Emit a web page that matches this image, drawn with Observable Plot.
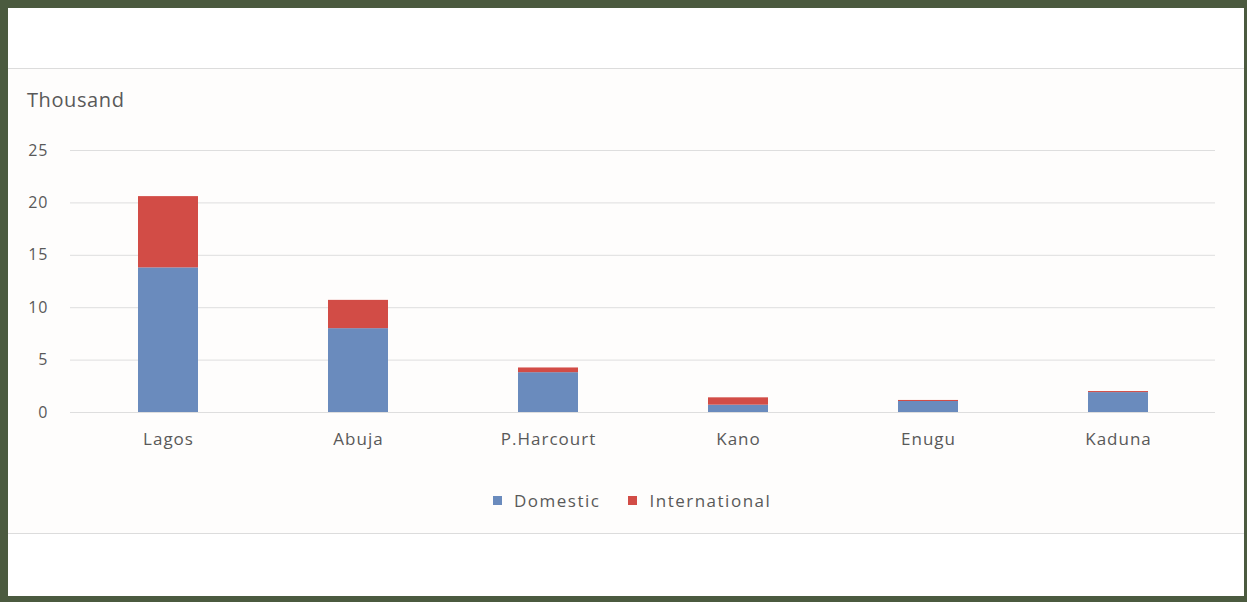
<!DOCTYPE html>
<html>
<head>
<meta charset="utf-8">
<script src="https://cdn.jsdelivr.net/npm/d3@7"></script>
<script src="https://cdn.jsdelivr.net/npm/@observablehq/plot@0.6"></script>
<style>
  html, body { margin: 0; padding: 0; background: #fff; }
  #frame { position: relative; width: 1247px; height: 602px; background: #4b5a3f; overflow: hidden; font-family: "Open Sans", sans-serif; color: #595959; }
  #inner { position: absolute; left: 8px; top: 8px; width: 1236px; height: 588px; background: #fff; }
  #panel { position: absolute; left: 8px; top: 68px; width: 1236px; height: 464px; background: #fefdfc; border-top: 1px solid #dcdcdc; border-bottom: 1px solid #dcdcdc; }
  #unit { position: absolute; left: 27px; top: 86px; font-size: 20px; letter-spacing: 0.6px; color: #595959; }
  #chart { position: absolute; left: 0; top: 120px; }
  #chart svg text { letter-spacing: 1px; }
  #legend { position: absolute; top: 489px; left: 493px; display: flex; gap: 28px; font-size: 17px; color: #595959; letter-spacing: 1.5px; }
  .item { display: flex; align-items: center; gap: 12px; }
  .sw { width: 9px; height: 9px; display: inline-block; }
</style>
</head>
<body>
<div id="frame">
  <div id="inner"></div>
  <div id="panel"></div>
  <div id="unit">Thousand</div>
  <div id="chart"></div>
  <div id="legend"></div>
</div>
<script>
const airports = ["Lagos", "Abuja", "P.Harcourt", "Kano", "Enugu", "Kaduna"];
const domestic = [13.8, 8.0, 3.8, 0.7, 1.05, 1.9];
const international = [6.8, 2.7, 0.45, 0.7, 0.1, 0.1];
const seriesNames = ["Domestic", "International"];
const seriesColors = ["#6a8bbd", "#d24c46"];
const yTicks = [0, 5, 10, 15, 20, 25];

const rows = [];
airports.forEach((a, i) => {
  rows.push({airport: a, series: seriesNames[0], value: domestic[i]});
  rows.push({airport: a, series: seriesNames[1], value: international[i]});
});

const chart = Plot.plot({
  width: 1247,
  height: 340,
  marginTop: 30,
  marginBottom: 48,
  marginLeft: 70,
  marginRight: 32,
  style: {fontFamily: "Open Sans, sans-serif", fontSize: "16px", color: "#595959", background: "transparent"},
  x: {domain: airports, paddingInner: 0.685, paddingOuter: 0.3425, label: null},
  y: {domain: [0, 25], ticks: yTicks, label: null},
  color: {domain: seriesNames, range: seriesColors},
  marks: [
    Plot.gridY(yTicks, {stroke: "#dedede", strokeOpacity: 1, strokeWidth: 1}),
    Plot.barY(rows, {x: "airport", y: "value", fill: "series", order: seriesNames}),
    Plot.axisY({ticks: yTicks, tickSize: 0, tickPadding: 22, label: null, fontSize: 16, tickFormat: d => d}),
    Plot.axisX({tickSize: 0, tickPadding: 20, label: null, fontSize: 17})
  ]
});
document.getElementById("chart").appendChild(chart);

const legend = document.getElementById("legend");
seriesNames.forEach((s, i) => {
  const it = document.createElement("div");
  it.className = "item";
  const sw = document.createElement("span");
  sw.className = "sw";
  sw.style.background = seriesColors[i];
  it.appendChild(sw);
  const t = document.createElement("span");
  t.textContent = s;
  it.appendChild(t);
  legend.appendChild(it);
});
</script>
</body>
</html>
